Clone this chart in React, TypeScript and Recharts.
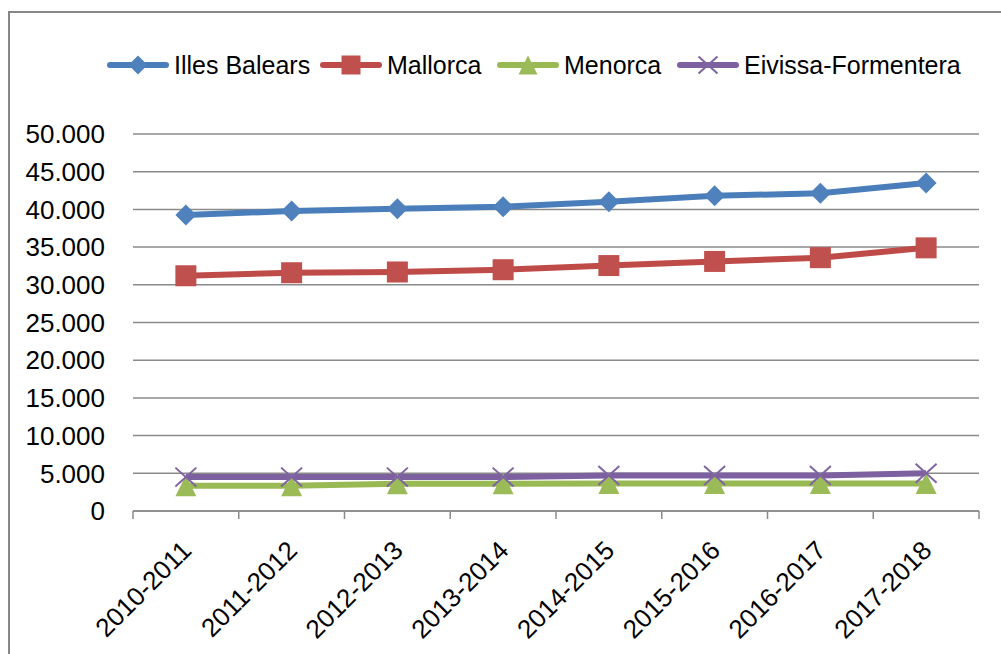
import React from 'react';
import { LineChart, Line, XAxis, YAxis, CartesianGrid, Legend } from 'recharts';

const categories = ['2010-2011', '2011-2012', '2012-2013', '2013-2014', '2014-2015', '2015-2016', '2016-2017', '2017-2018'];
const illesBalears = [39250, 39800, 40100, 40350, 41000, 41800, 42150, 43500];
const mallorca = [31200, 31600, 31700, 32000, 32550, 33100, 33600, 34900];
const menorca = [3350, 3350, 3600, 3600, 3650, 3650, 3650, 3650];
const eivissaFormentera = [4500, 4500, 4500, 4500, 4700, 4700, 4700, 5000];
const yTicks = [0, 5000, 10000, 15000, 20000, 25000, 30000, 35000, 40000, 45000, 50000];
const seriesNames = ['Illes Balears', 'Mallorca', 'Menorca', 'Eivissa-Formentera'];

const data = categories.map((c, i) => ({
  cat: c,
  ib: illesBalears[i],
  ma: mallorca[i],
  me: menorca[i],
  ef: eivissaFormentera[i],
}));

const FONT = '"Liberation Sans", Arial, sans-serif';
const W = 1001;
const H = 654;
const PLOT_LEFT = 133;
const PLOT_RIGHT = 979;
const PLOT_TOP = 134;
const PLOT_BOTTOM = 511;
const BAND = (PLOT_RIGHT - PLOT_LEFT) / categories.length;
const GRID = '#8a8a8a';

type Shape = 'diamond' | 'square' | 'triangle' | 'x';
const meta: { key: string; name: string; line: string; fill: string; shape: Shape }[] = [
  { key: 'ib', name: seriesNames[0], line: '#4A7EBB', fill: '#4F81BD', shape: 'diamond' },
  { key: 'ma', name: seriesNames[1], line: '#BE4B48', fill: '#C0504D', shape: 'square' },
  { key: 'me', name: seriesNames[2], line: '#98B954', fill: '#9BBB59', shape: 'triangle' },
  { key: 'ef', name: seriesNames[3], line: '#7D60A0', fill: '#8064A2', shape: 'x' },
];
const LEGEND_X = [107, 320, 497, 677];

function marker(shape: Shape, cx: number, cy: number, fill: string, s: number, key?: string) {
  const h = s / 2;
  if (shape === 'diamond') {
    return <polygon key={key} points={`${cx},${cy - h} ${cx + h},${cy} ${cx},${cy + h} ${cx - h},${cy}`} fill={fill} />;
  }
  if (shape === 'square') {
    return <rect key={key} x={cx - h} y={cy - h} width={s} height={s} fill={fill} />;
  }
  if (shape === 'triangle') {
    return <polygon key={key} points={`${cx},${cy - h} ${cx + h},${cy + h} ${cx - h},${cy + h}`} fill={fill} />;
  }
  return (
    <g key={key}>
      <line x1={cx - h} y1={cy - h * 0.9} x2={cx + h} y2={cy + h * 0.9} stroke={fill} strokeWidth={2} />
      <line x1={cx - h} y1={cy + h * 0.9} x2={cx + h} y2={cy - h * 0.9} stroke={fill} strokeWidth={2} />
    </g>
  );
}

const makeDot = (shape: Shape, fill: string) => (props: any) => {
  const { cx, cy, index } = props;
  if (cx == null || cy == null) return <g key={`d-${index}`} />;
  return marker(shape, cx, cy, fill, 21, `${shape}-${index}`);
};

const fmt = (v: number) => String(v).replace(/\B(?=(\d{3})+(?!\d))/g, '.');

const XTick = (props: any) => {
  const { x, y, payload, index } = props;
  const last = index === categories.length - 1;
  return (
    <g>
      <line x1={x - BAND / 2} y1={y} x2={x - BAND / 2} y2={y + 8} stroke={GRID} strokeWidth={1.5} />
      {last && <line x1={x + BAND / 2} y1={y} x2={x + BAND / 2} y2={y + 8} stroke={GRID} strokeWidth={1.5} />}
      <text
        x={x + 7}
        y={y + 41}
        textAnchor="end"
        transform={`rotate(-45, ${x + 7}, ${y + 41})`}
        fontFamily={FONT}
        fontSize={26}
        fill="#000"
      >
        {payload.value}
      </text>
    </g>
  );
};

const LegendContent = () => (
  <div style={{ position: 'relative', width: W, height: 30 }}>
    {meta.map((m, i) => (
      <div
        key={m.key}
        style={{
          position: 'absolute',
          left: LEGEND_X[i],
          top: 0,
          height: 30,
          display: 'flex',
          alignItems: 'center',
          whiteSpace: 'nowrap',
        }}
      >
        <svg width={62} height={30} style={{ display: 'block' }}>
          <line x1={3} y1={15} x2={59} y2={15} stroke={m.line} strokeWidth={6} strokeLinecap="round" />
          {marker(m.shape, 31, 15, m.fill, 19)}
        </svg>
        <span style={{ marginLeft: 5, fontFamily: FONT, fontSize: 25, color: '#000', lineHeight: '30px' }}>{m.name}</span>
      </div>
    ))}
  </div>
);

export default function App() {
  return (
    <div style={{ position: 'absolute', left: 0, top: 0, width: W, height: H, overflow: 'hidden', background: '#fff' }}>
      <div
        style={{
          position: 'absolute',
          left: 8,
          top: 11,
          width: 1100,
          height: 800,
          borderLeft: '2px solid #878787',
          borderTop: '2px solid #878787',
        }}
      />
      <div style={{ position: 'absolute', left: 0, top: 0 }}>
        <LineChart
          width={W}
          height={H}
          data={data}
          margin={{ top: PLOT_TOP, right: W - PLOT_RIGHT, bottom: 0, left: 0 }}
        >
          <CartesianGrid vertical={false} stroke={GRID} strokeWidth={1.5} />
          <XAxis
            dataKey="cat"
            scale="band"
            height={H - PLOT_BOTTOM}
            tickSize={0}
            tickMargin={0}
            tickLine={false}
            axisLine={{ stroke: GRID, strokeWidth: 1.5 }}
            tick={<XTick />}
            interval={0}
          />
          <YAxis
            width={PLOT_LEFT}
            domain={[0, 50000]}
            ticks={yTicks}
            tickFormatter={fmt}
            axisLine={false}
            tickLine={false}
            tickSize={0}
            tickMargin={28}
            tick={{ fontFamily: FONT, fontSize: 26, fill: '#000' }}
            interval={0}
          />
          <Legend
            layout="horizontal"
            verticalAlign="middle"
            align="center"
            content={<LegendContent />}
            wrapperStyle={{ position: 'absolute', top: 50, left: 0, width: W, height: 30 }}
          />
          {meta.map((m) => (
            <Line
              key={m.key}
              dataKey={m.key}
              name={m.name}
              type="linear"
              stroke={m.line}
              strokeWidth={6}
              dot={makeDot(m.shape, m.fill)}
              activeDot={false}
              isAnimationActive={false}
            />
          ))}
        </LineChart>
      </div>
    </div>
  );
}
